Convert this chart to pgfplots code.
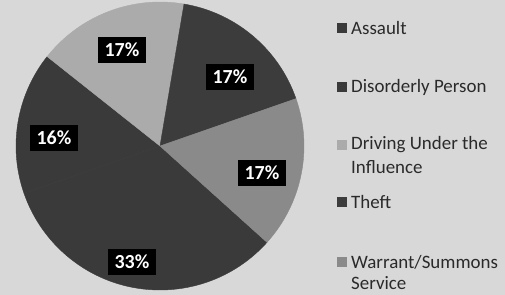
\documentclass[border=0pt]{standalone}
\usepackage{pgfplots}
\pgfplotsset{compat=1.18}
\usepackage{fontspec}
\setmainfont{Carlito}
\definecolor{bg}{HTML}{D8D8D8}
\definecolor{cA}{HTML}{3A3A3A}
\definecolor{cD}{HTML}{3A3A3A}
\definecolor{cU}{HTML}{ABABAB}
\definecolor{cT}{HTML}{3C3C3C}
\definecolor{cW}{HTML}{8A8A8A}
\definecolor{txt}{HTML}{2A2A2A}
\begin{document}
\begin{tikzpicture}
\tikzset{lbl/.style={fill=black,text=white,font=\fontsize{20}{20}\selectfont\bfseries,inner xsep=7bp,inner ysep=6bp},
  leg/.style={anchor=west,text=txt,font=\fontsize{19}{22}\selectfont,inner sep=0pt}}
\begin{axis}[width=505bp,height=295bp,scale only axis,hide axis,
  xmin=0,xmax=505,ymin=0,ymax=295,clip=false]
\fill[bg] (axis cs:0,0) rectangle (axis cs:505,295);
\gdef\curang{-42}
\foreach \v/\col in {33/cA,16/cD,17/cU,17/cT,17/cW}{
  \pgfmathsetmacro{\e}{\curang-3.6*\v}
  \edef\temp{\noexpand\filldraw[\col,line width=0.4bp,line join=round] (axis cs:160,149) -- ++(\curang:144bp) arc[start angle=\curang,end angle=\e,radius=144bp] -- cycle;}
  \temp
  \xdef\curang{\e}
}
\node[lbl] at (axis cs:132,33) {33\%};
\node[lbl] at (axis cs:54,157) {16\%};
\node[lbl] at (axis cs:122,245) {17\%};
\node[lbl] at (axis cs:230,218) {17\%};
\node[lbl] at (axis cs:262,122) {17\%};
\foreach \y/\col/\t in {267/cA/{Assault},208/cD/{Disorderly Person},150/cU/{Driving Under the},93/cT/{Theft},33/cW/{Warrant/Summons}}{
  \edef\temp{\noexpand\fill[\col] (axis cs:337,\y-5) rectangle (axis cs:347,\y+5);
    \noexpand\node[leg] at (axis cs:351,\y) {\t};}
  \temp
}
\node[leg] at (axis cs:351,128) {Influence};
\node[leg] at (axis cs:351,12) {Service};
\end{axis}
\pgfresetboundingbox
\path[use as bounding box] (0,0) rectangle (505bp,295bp);
\end{tikzpicture}
\end{document}
